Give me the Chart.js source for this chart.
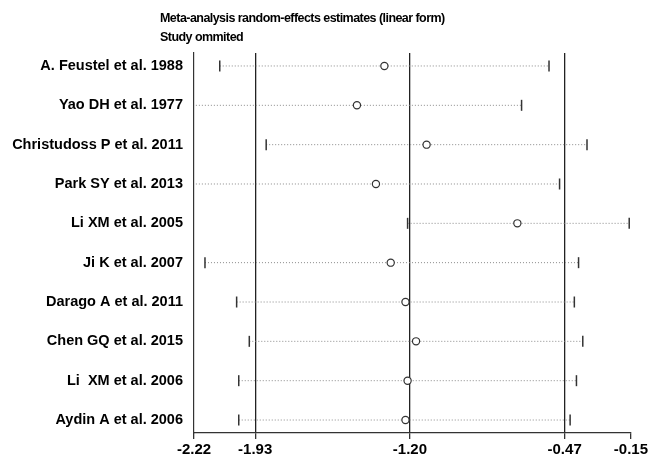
<!DOCTYPE html>
<html>
<head>
<meta charset="utf-8">
<script src="https://cdn.jsdelivr.net/npm/chart.js@4.4.0/dist/chart.umd.min.js"></script>
<style>
  html, body { margin: 0; padding: 0; background: #fff; }
</style>
</head>
<body>
<canvas id="myChart" width="650" height="458"></canvas>
<script>
const studies = [
  "A. Feustel et al. 1988",
  "Yao DH et al. 1977",
  "Christudoss P et al. 2011",
  "Park SY et al. 2013",
  "Li XM et al. 2005",
  "Ji K et al. 2007",
  "Darago A et al. 2011",
  "Chen GQ et al. 2015",
  "Li  XM et al. 2006",
  "Aydin A et al. 2006"
];
const estimates = [-1.32, -1.45, -1.12, -1.36, -0.69, -1.29, -1.22, -1.17, -1.21, -1.22];
const lowerCI   = [-2.10, -2.27, -1.88, -2.27, -1.21, -2.17, -2.02, -1.96, -2.01, -2.01];
const upperCI   = [-0.54, -0.67, -0.36, -0.49, -0.16, -0.40, -0.42, -0.38, -0.41, -0.44];
// axis ticks (shown rounded to 2 decimals)
const xTicks = [-2.222, -1.932, -1.199, -0.466, -0.152];
const refLines = [-1.932, -1.199, -0.466];
const titleLines = ["Meta-analysis random-effects estimates (linear form)", "Study ommited"];

const FONT = '"Liberation Sans", Arial, sans-serif';

// one dotted line per omitted study, end ticks drawn as rotated 'line' points
const ciSets = studies.map((s, i) => ({
  label: s,
  data: [{ x: lowerCI[i], y: i + 1 }, { x: upperCI[i], y: i + 1 }],
  showLine: true,
  borderColor: '#8a8a8a',
  borderWidth: 1,
  borderDash: [1, 2],
  pointStyle: 'line',
  rotation: 90,
  pointRadius: 5.5,
  pointBorderColor: '#333',
  pointBorderWidth: 1.5,
  order: 2
}));

const estSet = {
  label: 'estimate',
  data: estimates.map((v, i) => ({ x: v, y: i + 1 })),
  showLine: false,
  pointStyle: 'circle',
  pointRadius: 3.6,
  pointBackgroundColor: '#fff',
  pointBorderColor: '#333',
  pointBorderWidth: 1.2,
  order: 1
};

const header = {
  id: 'header',
  afterDraw(chart) {
    const ctx = chart.ctx;
    ctx.save();
    ctx.font = 'bold 12.5px ' + FONT;
    ctx.letterSpacing = '-0.55px';
    ctx.fillStyle = '#000';
    ctx.textBaseline = 'middle';
    ctx.fillText(titleLines[0], 160, 19);
    ctx.fillText(titleLines[1], 160, 38);
    ctx.restore();
  }
};

new Chart(document.getElementById('myChart'), {
  type: 'scatter',
  data: { datasets: [estSet, ...ciSets] },
  options: {
    responsive: false,
    animation: false,
    layout: { padding: { top: 53, right: 18, left: 0, bottom: 0 } },
    plugins: { legend: { display: false }, tooltip: { enabled: false } },
    scales: {
      x: {
        type: 'linear',
        min: -2.222,
        max: -0.152,
        afterBuildTicks: scale => { scale.ticks = xTicks.map(v => ({ value: v })); },
        afterFit: scale => { scale.height = 25; },
        ticks: {
          callback: v => v.toFixed(2),
          color: '#000',
          padding: 2,
          maxRotation: 0,
          autoSkip: false,
          font: { family: FONT, size: 15, weight: 'bold' }
        },
        grid: {
          color: ctx => (ctx.tick && refLines.includes(ctx.tick.value)) ? '#222' : 'rgba(0,0,0,0)',
          tickColor: '#333',
          tickLength: 6,
          lineWidth: 1.3
        },
        border: { display: true, color: '#333', width: 1.2 }
      },
      y: {
        type: 'linear',
        min: 0.67,
        max: 10.33,
        reverse: true,
        afterBuildTicks: scale => { scale.ticks = studies.map((s, i) => ({ value: i + 1 })); },
        afterFit: scale => { scale.width = 194; },
        ticks: {
          callback: v => studies[Math.round(v) - 1],
          color: '#000',
          padding: 11,
          autoSkip: false,
          font: { family: FONT, size: 14.5, weight: 'bold' }
        },
        grid: { display: false, drawTicks: false },
        border: { display: true, color: '#333', width: 1.2 }
      }
    }
  },
  plugins: [header]
});
</script>
</body>
</html>
